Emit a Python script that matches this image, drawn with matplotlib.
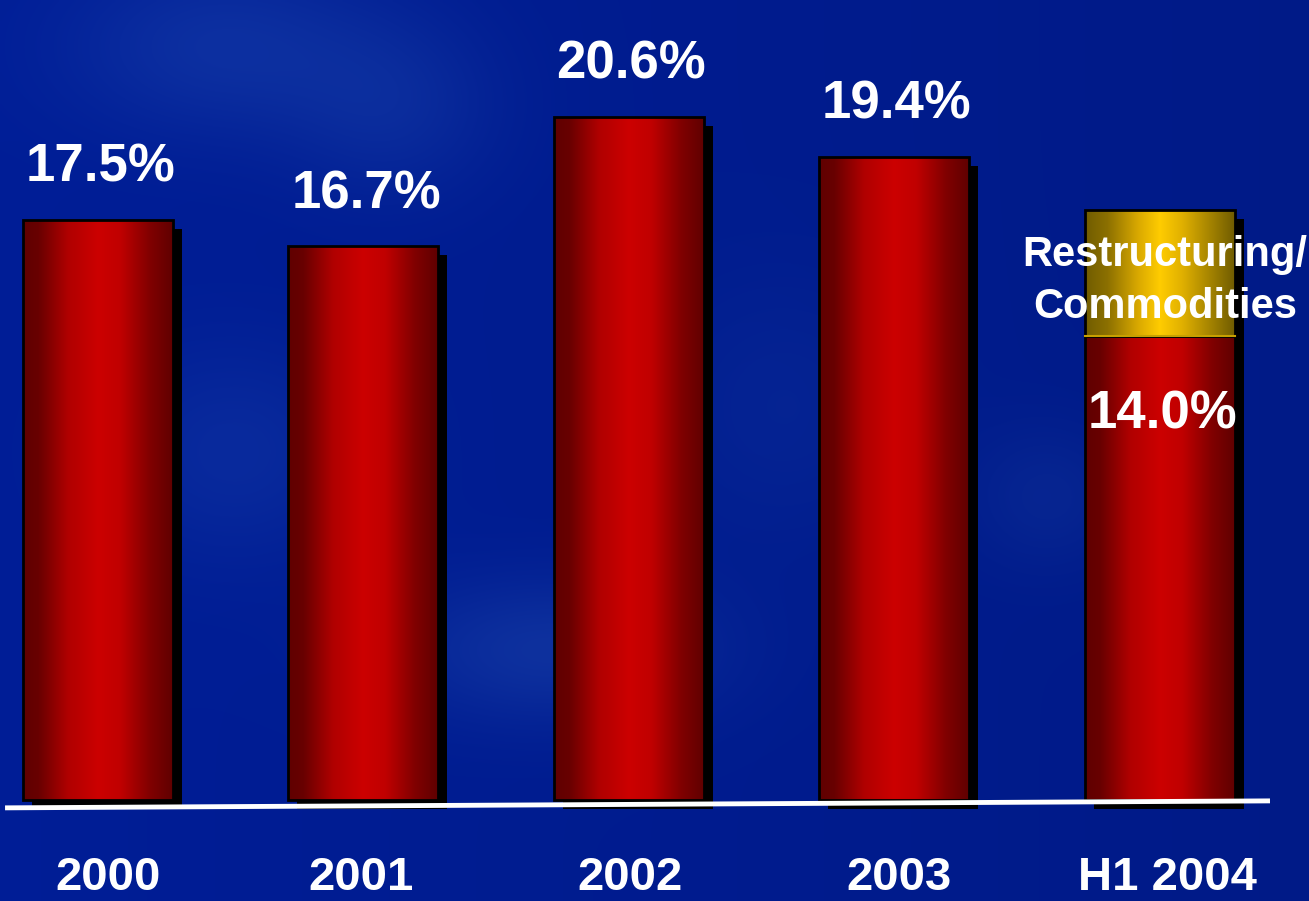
import matplotlib
matplotlib.use("Agg")
import matplotlib.pyplot as plt
import numpy as np
from matplotlib.colors import LinearSegmentedColormap

# Return on equity by period
periods = ["2000", "2001", "2002", "2003", "H1 2004"]
values = [17.5, 16.7, 20.6, 19.4, 14.0]
labels = ["17.5%", "16.7%", "20.6%", "19.4%", "14.0%"]
# extra slice stacked on the last bar
extra_value = 3.8
extra_label = ["Restructuring/", "Commodities"]

plt.rcParams['font.family'] = ['Liberation Sans', 'DejaVu Sans']

fig = plt.figure(figsize=(13.09, 9.01), dpi=100)
ax = fig.add_axes([0, 0, 1, 1])
xmin, xmax = -0.369, 4.563
ymin, ymax = -3.05, 24.13
ax.set_xlim(xmin, xmax)
ax.set_ylim(ymin, ymax)
ax.axis("off")

# blue backdrop with soft lighter haze
H, W = 300, 436
yy, xx = np.mgrid[0:H, 0:W] / np.array([H, W])[:, None, None]
base = np.array([0.0, 0.115, 0.59])
light = np.array([0.07, 0.22, 0.66])
haze = np.zeros((H, W))
for cx, cy, sx, sy, a in [(0.17, 0.05, 0.12, 0.10, 0.7),
                          (0.30, 0.12, 0.08, 0.10, 0.5),
                          (0.42, 0.72, 0.12, 0.08, 0.8),
                          (0.18, 0.50, 0.10, 0.12, 0.5),
                          (0.60, 0.45, 0.10, 0.15, 0.3),
                          (0.80, 0.55, 0.06, 0.08, 0.4)]:
    haze += a * np.exp(-(((xx - cx) / sx) ** 2 + ((yy - cy) / sy) ** 2))
haze = np.clip(haze, 0, 1)
fade = 1 - 0.1 * xx
bg = (base[None, None, :] + (light - base)[None, None, :] * haze[..., None]) * fade[..., None]
bg = np.clip(bg, 0, 1)
ax.imshow(bg, extent=[xmin, xmax, ymin, ymax], aspect="auto", zorder=0,
          interpolation="bilinear")

red_cmap = LinearSegmentedColormap.from_list(
    "red", [(0.0, "#600000"), (0.1, "#680000"), (0.3, "#b00000"),
            (0.5, "#cc0000"), (0.65, "#c00000"), (0.85, "#800000"),
            (1.0, "#600000")])
gold_cmap = LinearSegmentedColormap.from_list(
    "gold", [(0.0, "#705c00"), (0.15, "#8c7000"), (0.35, "#d8a800"),
             (0.5, "#ffcc00"), (0.65, "#e0b000"), (0.85, "#a08000"),
             (1.0, "#705c00")])
grad = np.linspace(0, 1, 256)[None, :]

width = 0.565
dx, dy = 0.034, -0.27
x = np.arange(len(periods))
totals = list(values)
totals[-1] = values[-1] + extra_value

# drop shadows
ax.bar(x + dx, totals, width=width, bottom=dy, color="black", zorder=1)


def gradient_bar(xc, bottom, height, cmap):
    bars = ax.bar(xc, height, width=width, bottom=bottom, facecolor="none",
                  edgecolor="black", linewidth=2, zorder=3)
    patch = bars[0]
    im = ax.imshow(grad, cmap=cmap, aspect="auto", zorder=2,
                   extent=[xc - width / 2, xc + width / 2, bottom, bottom + height])
    im.set_clip_path(patch)


for xi, v in zip(x, values):
    gradient_bar(xi, 0, v, red_cmap)
gradient_bar(x[-1], values[-1], extra_value, gold_cmap)
ax.plot([x[-1] - width / 2, x[-1] + width / 2], [values[-1], values[-1]],
        color="#c8a000", lw=1.5, zorder=4)

# baseline
ax.plot([-0.35, 4.416], [-0.24, -0.03], color="white", lw=3.5, zorder=5,
        solid_capstyle="butt")

txt = dict(color="white", fontweight="bold", ha="center", va="baseline", zorder=6)
for xi, v, lab in zip(x[:-1], values[:-1], labels[:-1]):
    ax.text(xi + 0.01, v + 1.15, lab, fontsize=38, **txt)
ax.text(x[-1] + 0.01, values[-1] - 2.8, labels[-1], fontsize=38, **txt)

top = values[-1] + extra_value
ax.text(x[-1] + 0.02, top - 1.7, extra_label[0], fontsize=30, **txt)
ax.text(x[-1] + 0.02, top - 3.27, extra_label[1], fontsize=30, **txt)

# period labels sit a little off-centre under each bar
nudge = [0.04, -0.01, 0.005, 0.02, 0.03]
for xi, p, n in zip(x, periods, nudge):
    ax.text(xi + n, -2.72, p, fontsize=34, **txt)

fig.savefig("out.png", dpi=100)
